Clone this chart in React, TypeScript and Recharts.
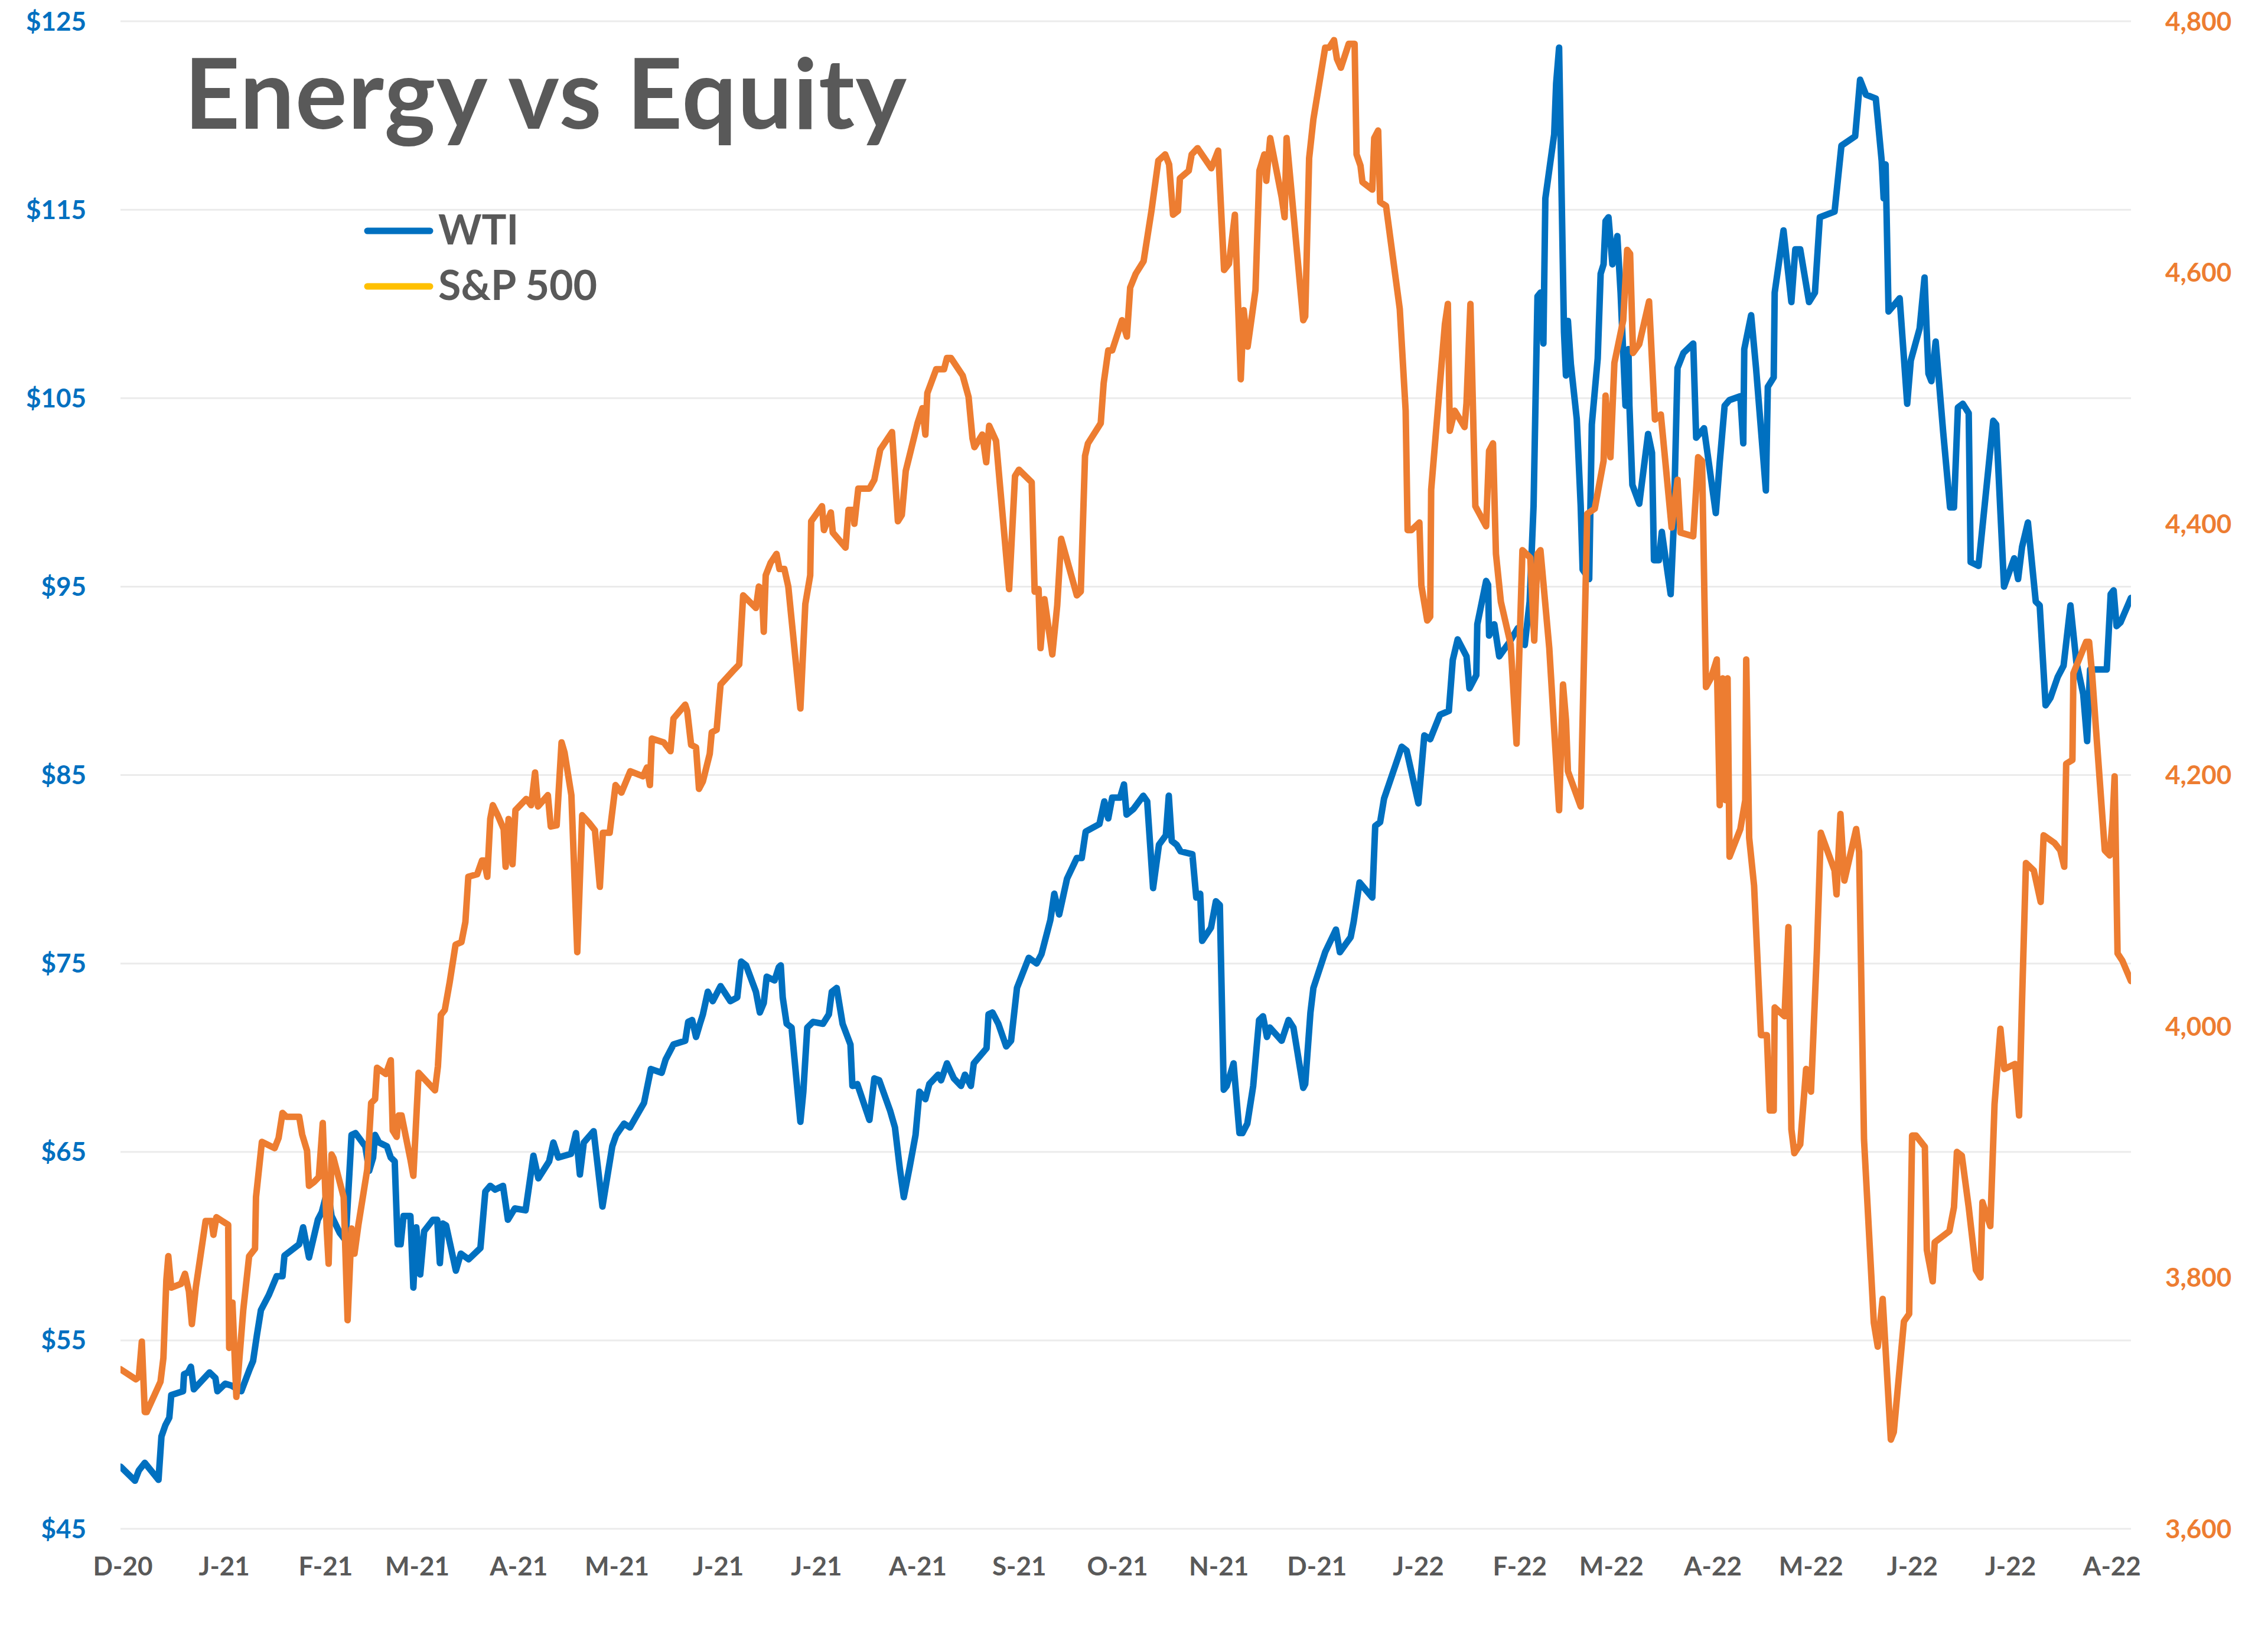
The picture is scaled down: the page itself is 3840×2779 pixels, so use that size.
import React from 'react';
import { LineChart, Line, XAxis, YAxis, CartesianGrid, Legend } from 'recharts';

// x values are calendar days counted from 1 Dec 2020
const monthTicks = [0, 31, 62, 90, 121, 151, 182, 212, 243, 274, 304, 335, 365, 396, 427, 455, 486, 516, 547, 577, 608];
const monthLabels = ['D-20', 'J-21', 'F-21', 'M-21', 'A-21', 'M-21', 'J-21', 'J-21', 'A-21', 'S-21', 'O-21', 'N-21', 'D-21', 'J-22', 'F-22', 'M-22', 'A-22', 'M-22', 'J-22', 'J-22', 'A-22'];
const wtiTicks = [45, 55, 65, 75, 85, 95, 105, 115, 125];
const spxTicks = [3600, 3800, 4000, 4200, 4400, 4600, 4800];
const legendOrder = ['WTI', 'S&P 500'];

const wtiPoints: [number, number][] = [
  [-0.7, 48.3], [3.7, 47.55], [4.9, 48.1], [6.7, 48.5], [10.9, 47.6], [11.8, 49.9], [13.0, 50.5], [14.2, 50.9], [14.8, 52.1], [18.4, 52.3],
  [18.7, 53.2], [19.9, 53.3], [20.8, 53.6], [21.7, 52.4], [26.5, 53.3], [28.3, 53.0], [28.9, 52.3], [31.3, 52.7], [33.2, 52.6], [36.2, 52.3],
  [38.6, 53.4], [39.8, 53.9], [41.0, 55.3], [42.2, 56.6], [44.6, 57.4], [47.0, 58.4], [48.8, 58.4], [49.4, 59.5], [53.9, 60.1], [55.1, 61.0],
  [56.9, 59.4], [59.6, 61.4], [60.8, 61.8], [62.6, 63.0], [63.8, 61.6], [66.3, 60.7], [68.1, 60.3], [69.9, 65.9], [71.1, 66.0], [74.1, 65.3],
  [75.3, 64.0], [76.5, 64.7], [77.1, 65.9], [78.3, 65.5], [80.7, 65.3], [81.9, 64.7], [83.1, 64.5], [84.0, 60.1], [84.9, 60.1], [85.8, 61.6],
  [87.9, 61.6], [88.8, 57.8], [89.7, 61.0], [90.9, 58.5], [92.1, 60.8], [94.8, 61.4], [96.1, 61.4], [96.9, 59.1], [97.8, 61.2], [98.8, 61.1],
  [101.8, 58.7], [103.3, 59.6], [105.7, 59.3], [109.3, 59.9], [110.8, 62.9], [112.3, 63.2], [113.8, 63.0], [116.2, 63.2], [117.7, 61.4], [119.8, 62.0],
  [123.1, 61.9], [125.5, 64.8], [127.0, 63.6], [130.3, 64.5], [131.6, 65.5], [133.1, 64.7], [137.0, 64.9], [138.5, 66.0], [139.7, 63.8], [140.9, 65.5],
  [143.9, 66.1], [146.6, 62.1], [149.6, 65.3], [150.8, 65.9], [153.2, 66.5], [155.0, 66.3], [159.3, 67.6], [161.4, 69.4], [164.7, 69.2], [165.9, 69.9],
  [168.3, 70.7], [171.9, 70.9], [172.8, 71.9], [174.0, 72.0], [175.2, 71.1], [176.4, 71.8], [177.3, 72.3], [178.8, 73.5], [180.3, 73.0], [182.7, 73.8],
  [185.7, 73.0], [187.8, 73.2], [189.0, 75.1], [190.5, 74.9], [193.5, 73.5], [194.7, 72.4], [195.9, 72.9], [196.8, 74.3], [199.2, 74.1], [200.5, 74.8],
  [201.1, 74.9], [201.7, 73.2], [202.9, 71.8], [204.4, 71.6], [207.1, 66.6], [208.0, 68.2], [209.2, 71.6], [211.0, 71.9], [214.0, 71.8], [215.8, 72.3],
  [216.7, 73.5], [218.2, 73.7], [220.0, 71.8], [222.4, 70.7], [223.0, 68.5], [224.5, 68.6], [228.2, 66.7], [229.7, 68.9], [231.2, 68.8], [234.5, 67.2],
  [236.0, 66.3], [237.5, 64.1], [238.7, 62.6], [240.5, 64.2], [242.3, 65.9], [243.5, 68.2], [245.3, 67.8], [246.5, 68.6], [249.2, 69.1], [250.1, 68.8],
  [251.9, 69.7], [254.0, 68.9], [256.2, 68.5], [257.4, 69.1], [259.2, 68.5], [260.1, 69.7], [264.0, 70.5], [264.6, 72.3], [265.8, 72.4], [267.6, 71.8],
  [270.0, 70.6], [271.5, 70.9], [273.3, 73.7], [276.9, 75.3], [279.3, 75.0], [280.8, 75.5], [283.5, 77.3], [284.7, 78.7], [286.2, 77.6], [288.6, 79.5],
  [291.6, 80.6], [293.1, 80.6], [294.3, 82.0], [298.5, 82.4], [300.0, 83.6], [301.2, 82.7], [302.4, 83.8], [304.8, 83.8], [306.0, 84.5], [306.8, 82.9],
  [308.9, 83.2], [311.9, 83.9], [313.1, 83.6], [314.9, 79.0], [316.7, 81.3], [318.8, 81.8], [319.7, 83.9], [320.6, 81.5], [322.1, 81.3], [323.3, 80.95],
  [326.9, 80.8], [328.1, 78.5], [329.3, 78.7], [329.9, 76.2], [332.6, 76.9], [334.1, 78.3], [335.3, 78.1], [336.5, 68.3], [337.4, 68.5], [339.5, 69.7],
  [341.3, 66.0], [342.2, 66.0], [343.7, 66.5], [345.5, 68.5], [347.3, 72.0], [348.5, 72.2], [349.7, 71.1], [350.6, 71.6], [354.2, 70.9], [356.3, 72.0],
  [357.8, 71.6], [360.8, 68.4], [361.4, 68.6], [363.0, 72.4], [363.9, 73.7], [367.5, 75.6], [370.8, 76.8], [372.0, 75.6], [375.3, 76.4], [376.2, 77.2],
  [378.0, 79.3], [381.9, 78.5], [382.8, 82.3], [384.3, 82.5], [385.5, 83.75], [390.9, 86.5], [392.4, 86.3], [396.0, 83.5], [397.8, 87.1], [399.6, 86.9],
  [402.6, 88.2], [405.3, 88.4], [406.5, 91.1], [408.0, 92.2], [410.7, 91.3], [411.6, 89.6], [413.7, 90.3], [414.0, 93.0], [416.7, 95.3], [417.3, 95.1],
  [417.6, 92.4], [419.2, 93.0], [420.7, 91.3], [424.0, 92.1], [426.4, 92.8], [428.5, 91.9], [430.0, 94.2], [431.2, 99.3], [432.4, 110.4], [433.3, 110.6],
  [434.2, 107.9], [434.8, 115.6], [437.5, 119.0], [438.1, 121.7], [439.0, 123.6], [440.5, 108.5], [441.1, 106.2], [441.7, 109.1], [442.6, 106.8], [444.4, 103.9],
  [445.6, 99.3], [446.2, 95.9], [448.2, 95.4], [449.0, 103.6], [450.8, 107.1], [451.7, 111.6], [452.6, 112.1], [453.2, 114.4], [454.1, 114.6], [455.3, 112.1],
  [456.8, 113.6], [457.8, 110.6], [459.3, 104.6], [460.2, 107.6], [460.5, 104.6], [461.4, 100.4], [463.5, 99.4], [466.2, 103.1], [467.4, 102.1], [468.0, 96.4],
  [469.5, 96.4], [470.4, 97.9], [473.1, 94.6], [474.0, 98.1], [475.2, 106.6], [477.0, 107.4], [480.0, 107.9], [480.9, 102.9], [483.3, 103.4], [486.9, 98.9],
  [488.1, 101.6], [489.6, 104.6], [491.1, 104.9], [494.4, 105.1], [495.3, 102.6], [495.6, 107.6], [497.7, 109.4], [499.2, 106.6], [502.2, 100.1], [502.8, 105.6],
  [504.6, 106.1], [504.9, 110.6], [507.6, 113.9], [510.0, 110.1], [511.2, 112.9], [512.7, 112.9], [515.4, 110.1], [517.2, 110.6], [518.7, 114.6], [523.2, 114.9],
  [525.3, 118.4], [529.5, 118.9], [531.0, 121.9], [532.8, 121.1], [535.8, 120.9], [537.6, 117.6], [538.2, 115.6], [538.8, 117.4], [539.7, 109.6], [543.1, 110.3],
  [545.4, 104.7], [546.5, 107.0], [549.2, 108.7], [550.7, 111.4], [551.9, 106.3], [552.8, 105.9], [554.1, 108.0], [556.4, 103.2], [558.5, 99.2], [559.7, 99.2],
  [560.9, 104.5], [562.4, 104.7], [564.2, 104.2], [564.8, 96.3], [567.2, 96.1], [571.7, 103.8], [572.6, 103.6], [575.0, 95.0], [578.1, 96.5], [579.3, 95.4],
  [580.5, 97.1], [582.3, 98.4], [584.7, 94.2], [585.9, 94.0], [587.7, 88.7], [589.2, 89.1], [591.4, 90.2], [593.2, 90.8], [595.3, 94.0], [597.1, 91.0],
  [599.2, 89.3], [600.4, 86.8], [601.3, 90.6], [604.9, 90.6], [606.4, 90.6], [607.6, 94.6], [608.5, 94.8], [609.4, 92.9], [610.6, 93.1], [613.8, 94.4],
];

const spxPoints: [number, number][] = [
  [-0.7, 3727], [4.0, 3719], [4.9, 3721], [5.8, 3749], [6.7, 3693], [7.3, 3693], [11.5, 3717], [12.4, 3736], [13.3, 3798], [13.9, 3817],
  [14.8, 3792], [17.8, 3795], [19.0, 3803], [20.2, 3789], [21.1, 3763], [22.3, 3792], [25.3, 3845], [27.1, 3845], [27.7, 3834], [28.6, 3848],
  [30.4, 3845], [32.2, 3842], [32.5, 3744], [33.5, 3780], [34.7, 3705], [36.8, 3774], [38.6, 3817], [40.4, 3823], [40.7, 3864], [42.5, 3908],
  [46.4, 3903], [47.6, 3911], [48.8, 3931], [50.0, 3928], [53.9, 3928], [54.8, 3914], [56.3, 3901], [56.9, 3873], [58.4, 3876], [59.9, 3880],
  [61.1, 3923], [62.3, 3839], [62.9, 3811], [63.8, 3898], [64.4, 3895], [66.3, 3876], [67.5, 3864], [68.7, 3766], [69.9, 3839], [70.8, 3819],
  [72.0, 3842], [74.7, 3886], [75.9, 3939], [77.1, 3942], [77.7, 3967], [80.4, 3962], [81.9, 3973], [82.5, 3917], [83.7, 3912], [84.3, 3929],
  [85.2, 3929], [87.9, 3894], [88.8, 3881], [90.4, 3963], [95.4, 3949], [96.3, 3968], [97.2, 4009], [98.4, 4013], [99.9, 4035], [101.7, 4065],
  [103.5, 4067], [104.7, 4083], [105.6, 4119], [108.3, 4121], [109.8, 4132], [110.4, 4132], [111.4, 4119], [112.3, 4165], [113.1, 4176], [114.6, 4168],
  [116.4, 4157], [117.0, 4127], [117.9, 4165], [119.1, 4129], [120.0, 4172], [123.3, 4181], [124.8, 4176], [126.0, 4202], [126.9, 4175], [129.9, 4184],
  [130.8, 4159], [132.6, 4160], [134.1, 4226], [135.0, 4218], [137.1, 4184], [138.9, 4059], [140.4, 4168], [142.5, 4162], [144.3, 4156], [145.8, 4111],
  [146.7, 4154], [148.8, 4154], [150.6, 4192], [152.4, 4186], [155.1, 4203], [159.0, 4199], [160.2, 4206], [161.1, 4192], [161.7, 4229], [165.3, 4226],
  [167.4, 4219], [168.3, 4245], [171.9, 4256], [172.5, 4251], [173.7, 4224], [175.2, 4222], [176.1, 4189], [177.3, 4195], [179.4, 4217], [180.0, 4234],
  [181.5, 4236], [182.7, 4272], [186.9, 4284], [188.4, 4288], [189.6, 4343], [193.5, 4333], [194.4, 4350], [195.3, 4348], [195.9, 4314], [196.5, 4359],
  [198.0, 4369], [199.8, 4376], [200.7, 4364], [202.2, 4364], [203.4, 4350], [207.1, 4253], [208.6, 4336], [210.1, 4359], [210.4, 4402], [213.7, 4414],
  [214.3, 4395], [216.4, 4409], [217.0, 4393], [220.9, 4381], [221.8, 4411], [223.3, 4411], [223.6, 4400], [224.8, 4428], [228.2, 4428], [229.7, 4435],
  [231.5, 4459], [235.1, 4473], [236.9, 4402], [238.1, 4407], [239.3, 4442], [242.9, 4480], [244.4, 4492], [245.3, 4471], [245.9, 4504], [248.6, 4523],
  [251.0, 4523], [251.9, 4532], [253.1, 4532], [256.7, 4518], [258.5, 4501], [259.7, 4468], [260.3, 4461], [262.7, 4471], [263.9, 4449], [264.8, 4478],
  [266.9, 4466], [270.9, 4348], [272.7, 4438], [273.9, 4443], [277.8, 4433], [278.7, 4346], [279.9, 4348], [280.5, 4301], [281.7, 4340], [284.1, 4296],
  [285.6, 4335], [286.8, 4388], [291.6, 4343], [292.8, 4346], [294.1, 4454], [295.0, 4464], [298.9, 4480], [299.8, 4512], [301.2, 4538], [302.4, 4538],
  [305.4, 4562], [306.9, 4549], [307.9, 4588], [309.6, 4599], [312.0, 4609], [314.4, 4649], [316.5, 4689], [318.6, 4694], [319.8, 4686], [321.0, 4646],
  [322.5, 4649], [323.1, 4675], [325.8, 4681], [326.7, 4694], [328.5, 4699], [332.7, 4683], [334.8, 4697], [336.6, 4602], [338.1, 4607], [339.9, 4646],
  [341.7, 4515], [342.6, 4570], [343.8, 4541], [346.2, 4586], [347.4, 4681], [348.9, 4694], [349.5, 4673], [350.7, 4707], [354.2, 4660], [355.1, 4644],
  [355.7, 4707], [360.8, 4562], [361.4, 4565], [362.6, 4691], [363.9, 4722], [367.5, 4779], [368.7, 4779], [370.2, 4785], [371.1, 4770], [372.3, 4763],
  [374.7, 4782], [376.5, 4782], [377.1, 4694], [378.3, 4685], [378.9, 4672], [381.9, 4666], [382.5, 4707], [383.7, 4713], [384.3, 4656], [386.1, 4653],
  [390.3, 4571], [392.1, 4490], [392.7, 4395], [393.9, 4395], [396.3, 4401], [396.9, 4351], [398.7, 4323], [399.6, 4326], [399.9, 4427], [404.1, 4559],
  [405.0, 4575], [405.6, 4474], [407.1, 4490], [410.1, 4477], [410.7, 4496], [411.9, 4575], [413.4, 4414], [416.7, 4398], [417.6, 4458], [418.8, 4464],
  [419.7, 4376], [421.2, 4338], [424.2, 4304], [426.0, 4225], [427.8, 4379], [430.2, 4373], [431.4, 4307], [432.4, 4376], [433.3, 4379], [436.0, 4301],
  [439.0, 4172], [440.2, 4272], [441.1, 4244], [441.7, 4203], [445.6, 4175], [447.6, 4408], [449.9, 4412], [452.6, 4450], [453.2, 4502], [454.7, 4453],
  [455.9, 4528], [458.6, 4562], [459.8, 4618], [460.7, 4615], [461.6, 4536], [463.5, 4543], [466.5, 4577], [468.3, 4483], [470.1, 4487], [473.4, 4397],
  [475.2, 4435], [476.1, 4393], [480.0, 4390], [481.5, 4453], [482.7, 4450], [483.9, 4270], [485.4, 4277], [487.2, 4292], [488.1, 4176], [489.0, 4277],
  [489.9, 4180], [490.5, 4277], [491.1, 4135], [494.4, 4157], [495.9, 4180], [496.2, 4292], [497.1, 4150], [498.6, 4112], [500.7, 3993], [502.5, 3993],
  [503.4, 3933], [504.6, 3933], [504.9, 4015], [507.9, 4008], [509.1, 4079], [510.0, 3918], [510.9, 3899], [512.7, 3906], [514.5, 3966], [516.0, 3948],
  [517.8, 4060], [519.0, 4154], [521.1, 4139], [523.2, 4124], [523.8, 4105], [525.0, 4169], [526.2, 4116], [529.8, 4157], [530.7, 4139], [532.2, 3910],
  [535.2, 3764], [536.4, 3745], [537.9, 3783], [540.4, 3671], [541.3, 3677], [544.4, 3765], [546.0, 3771], [546.9, 3913], [548.1, 3913], [550.8, 3904],
  [551.4, 3822], [553.2, 3797], [553.8, 3828], [558.3, 3837], [559.7, 3856], [560.6, 3900], [562.1, 3897], [564.2, 3856], [566.4, 3806], [567.8, 3800],
  [568.4, 3860], [570.8, 3841], [572.1, 3938], [573.9, 3998], [575.1, 3966], [578.4, 3970], [579.6, 3929], [580.5, 4020], [581.7, 4130], [584.1, 4124],
  [586.2, 4099], [587.1, 4152], [590.4, 4146], [592.2, 4140], [593.4, 4127], [594.0, 4209], [595.9, 4212], [596.2, 4281], [600.1, 4306], [601.0, 4306],
  [601.9, 4281], [603.1, 4237], [605.8, 4140], [607.3, 4136], [608.2, 4165], [608.8, 4199], [609.7, 4058], [611.2, 4052], [613.8, 4036],
];

const wtiData = wtiPoints.map(([day, v]) => ({ day, wti: v }));
const spxData = spxPoints.map(([day, v]) => ({ day, spx: v }));

const FONT = "Lato, 'Open Sans', sans-serif";
const legendColors: Record<string, string> = { WTI: '#0070C0', 'S&P 500': '#FFC000' };

const renderLegend = (props: any) => {
  const payload = [...(props.payload || [])].sort(
    (a: any, b: any) => legendOrder.indexOf(a.value) - legendOrder.indexOf(b.value)
  );
  return (
    <svg width={480} height={190} style={{ overflow: 'visible', display: 'block' }}>
      {payload.map((entry: any, i: number) => (
        <g key={String(entry.value)}>
          <line x1={22} x2={128} y1={51 + i * 94} y2={51 + i * 94} stroke={legendColors[entry.value] || entry.color} strokeWidth={11} strokeLinecap="round" />
          <text x={142} y={74 + i * 94} fill="#595959" fontFamily={FONT} fontWeight={700} fontSize={70}>{entry.value}</text>
        </g>
      ))}
    </svg>
  );
};

export default function App() {
  return (
    <div style={{ position: 'absolute', left: 0, top: 0, width: 3840, height: 2779, background: '#ffffff' }}>
      <LineChart width={3840} height={2779} margin={{ top: 36, right: 0, bottom: 0, left: 0 }}>
        <CartesianGrid vertical={false} yAxisId="left" stroke="#EBEBEB" strokeWidth={3} />
        <XAxis
          dataKey="day"
          type="number"
          domain={[-0.72, 613.8]}
          allowDataOverflow
          ticks={monthTicks}
          interval={0}
          tickFormatter={(v: number) => monthLabels[monthTicks.indexOf(v)] ?? ''}
          axisLine={false}
          tickLine={false}
          tickSize={0}
          tickMargin={48}
          height={190}
          tick={{ fill: '#595959', fontSize: 44, fontWeight: 700, fontFamily: FONT }}
        />
        <YAxis
          yAxisId="left"
          orientation="left"
          width={204}
          domain={[45, 125]}
          allowDataOverflow
          ticks={wtiTicks}
          interval={0}
          tickFormatter={(v: number) => `$${v}`}
          axisLine={false}
          tickLine={false}
          tickSize={0}
          tickMargin={58}
          tick={{ fill: '#0070C0', fontSize: 44, fontWeight: 700, fontFamily: FONT }}
        />
        <YAxis
          yAxisId="right"
          orientation="right"
          width={232}
          domain={[3600, 4800]}
          allowDataOverflow
          ticks={spxTicks}
          interval={0}
          tickFormatter={(v: number) => v.toLocaleString('en-US')}
          axisLine={false}
          tickLine={false}
          tickSize={0}
          tickMargin={58}
          tick={{ fill: '#ED7D31', fontSize: 44, fontWeight: 700, fontFamily: FONT }}
        />
        <Legend
          layout="vertical"
          align="center"
          verticalAlign="middle"
          content={renderLegend}
          wrapperStyle={{ position: 'absolute', left: 600, top: 340, width: 480, height: 190 }}
        />
        <Line
          data={wtiData}
          dataKey="wti"
          name="WTI"
          yAxisId="left"
          type="linear"
          stroke="#0070C0"
          strokeWidth={11}
          strokeLinejoin="round"
          strokeLinecap="round"
          dot={false}
          activeDot={false}
          isAnimationActive={false}
        />
        <Line
          data={spxData}
          dataKey="spx"
          name="S&P 500"
          yAxisId="right"
          type="linear"
          stroke="#ED7D31"
          strokeWidth={11}
          strokeLinejoin="round"
          strokeLinecap="round"
          dot={false}
          activeDot={false}
          isAnimationActive={false}
        />
      </LineChart>
      <svg width={3840} height={300} style={{ position: 'absolute', left: 0, top: 0, pointerEvents: 'none' }}>
        <text x={312} y={218} fill="#595959" fontFamily={FONT} fontWeight={700} fontSize={164} letterSpacing={1.5}>Energy vs Equity</text>
      </svg>
    </div>
  );
}
